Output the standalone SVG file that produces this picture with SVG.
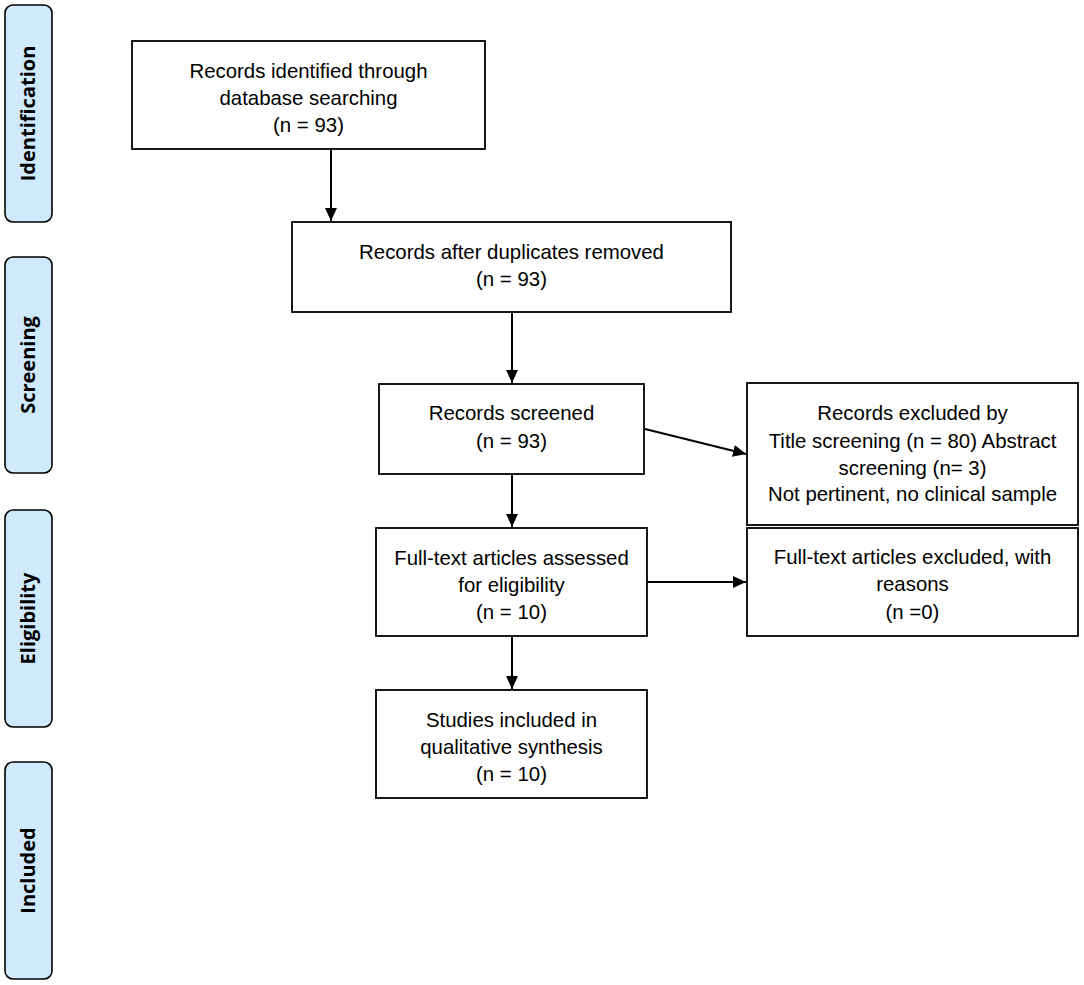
<svg xmlns="http://www.w3.org/2000/svg" width="1084" height="985" viewBox="0 0 1084 985">
<style>
.bar{fill:#cfeafc;stroke:#000;stroke-width:1.6}
.bt{font-family:"Open Sans","Liberation Sans",sans-serif;font-weight:bold;font-size:20px;fill:#000;text-anchor:middle}
.box{fill:#fff;stroke:#000;stroke-width:1.8}
.t{font-family:"Liberation Sans",Arial,sans-serif;font-size:20.4px;fill:#000;text-anchor:middle}
.c{stroke:#000;stroke-width:2;fill:none;marker-end:url(#ah)}
</style>
<defs>
<marker id="ah" viewBox="0 0 12 12" refX="12" refY="6" markerWidth="13" markerHeight="13" markerUnits="userSpaceOnUse" orient="auto">
<path d="M0,0.5 L12,6 L0,11.5 Z" fill="#000"/>
</marker>
</defs>
<rect width="1084" height="985" fill="#fff"/>
<g id="phase-identification"><rect class="bar" x="5" y="5" width="47" height="217" rx="8"/><text class="bt" transform="translate(35,113.5) rotate(-90)">Identification</text></g>
<g id="phase-screening"><rect class="bar" x="5" y="257" width="47" height="216" rx="8"/><text class="bt" transform="translate(35,365) rotate(-90)">Screening</text></g>
<g id="phase-eligibility"><rect class="bar" x="5" y="510" width="47" height="217" rx="8"/><text class="bt" transform="translate(35,618.5) rotate(-90)">Eligibility</text></g>
<g id="phase-included"><rect class="bar" x="5" y="762" width="47" height="217" rx="8"/><text class="bt" transform="translate(35,870.5) rotate(-90)">Included</text></g>

<g id="n1"><rect class="box" x="132" y="41" width="353" height="108"/>
<text class="t" x="308.5" y="78">Records identified through</text>
<text class="t" x="308.5" y="105">database searching</text>
<text class="t" x="308.5" y="132">(n = 93)</text></g>

<g id="n2"><rect class="box" x="292" y="222" width="439" height="90"/>
<text class="t" x="511.5" y="259">Records after duplicates removed</text>
<text class="t" x="511.5" y="286">(n = 93)</text></g>

<g id="n3"><rect class="box" x="379" y="384" width="265" height="90"/>
<text class="t" x="511.5" y="420">Records screened</text>
<text class="t" x="511.5" y="448">(n = 93)</text></g>

<g id="n4"><rect class="box" x="747" y="383" width="331" height="142"/>
<text class="t" x="912.5" y="420">Records excluded by</text>
<text class="t" x="912.5" y="448">Title screening (n = 80) Abstract</text>
<text class="t" x="912.5" y="475">screening (n= 3)</text>
<text class="t" x="912.5" y="501">Not pertinent, no clinical sample</text></g>

<g id="n5"><rect class="box" x="376" y="528" width="271" height="108"/>
<text class="t" x="511.5" y="565">Full-text articles assessed</text>
<text class="t" x="511.5" y="592">for eligibility</text>
<text class="t" x="511.5" y="619">(n = 10)</text></g>

<g id="n6"><rect class="box" x="747" y="528" width="331" height="108"/>
<text class="t" x="912.5" y="564">Full-text articles excluded, with</text>
<text class="t" x="912.5" y="591">reasons</text>
<text class="t" x="912.5" y="619">(n =0)</text></g>

<g id="n7"><rect class="box" x="376" y="690" width="271" height="108"/>
<text class="t" x="511.5" y="727">Studies included in</text>
<text class="t" x="511.5" y="754">qualitative synthesis</text>
<text class="t" x="511.5" y="781">(n = 10)</text></g>

<g id="connectors">
<line class="c" x1="331" y1="149" x2="331" y2="221"/>
<line class="c" x1="512" y1="312" x2="512" y2="383"/>
<line class="c" x1="512" y1="474" x2="512" y2="527"/>
<line class="c" x1="512" y1="636" x2="512" y2="689"/>
<line class="c" x1="645" y1="429" x2="746" y2="454"/>
<line class="c" x1="647" y1="582" x2="746" y2="582"/>
</g>
</svg>
